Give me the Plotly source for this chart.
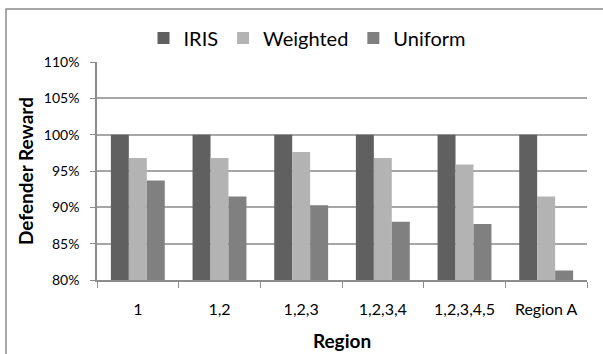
import plotly.graph_objects as go

categories = ["1", "1,2", "1,2,3", "1,2,3,4", "1,2,3,4,5", "Region A"]
iris = [1.00, 1.00, 1.00, 1.00, 1.00, 1.00]
weighted = [0.968, 0.968, 0.976, 0.968, 0.959, 0.915]
uniform = [0.937, 0.915, 0.903, 0.880, 0.877, 0.813]

FONT = "Lato"
fig = go.Figure()
fig.add_trace(go.Bar(name="IRIS", x=categories, y=iris, marker_color="#606060", marker_line_width=0))
fig.add_trace(go.Bar(name="Weighted", x=categories, y=weighted, marker_color="#b3b3b3", marker_line_width=0))
fig.add_trace(go.Bar(name="Uniform", x=categories, y=uniform, marker_color="#808080", marker_line_width=0))

L, R, T, B = 97, 16, 62, 74
W, H = 603, 354
pw, ph = W - L - R, H - T - B

def px(x):
    return (x - L) / pw

def py(y):
    return (H - B - y) / ph

fig.update_layout(
    width=W, height=H,
    margin=dict(l=L, r=R, t=T, b=B, autoexpand=False),
    paper_bgcolor="white", plot_bgcolor="white",
    barmode="group", bargap=0.34, bargroupgap=0,
    font=dict(family=FONT, color="#000000", size=14),
    legend=dict(orientation="h", x=px(307), xanchor="center", y=py(38), yanchor="middle",
                font=dict(size=20, family=FONT), itemwidth=30, traceorder="normal"),
    xaxis=dict(showline=True, linecolor="#8c8c8c", linewidth=1.5, ticks="outside",
               tickson="boundaries", ticklen=6, tickcolor="#8c8c8c", tickwidth=1,
               ticklabelstandoff=14, automargin=False,
               tickfont=dict(size=16, family=FONT),
               title=dict(text="<b>Region</b>", font=dict(size=19, family=FONT), standoff=18)),
    yaxis=dict(range=[0.8, 1.1], dtick=0.05, tickformat=".0%", showline=True,
               linecolor="#8c8c8c", linewidth=1.5, ticks="outside", ticklen=5,
               tickcolor="#8c8c8c", showgrid=True, gridcolor="#a6a6a6", gridwidth=1.5,
               ticklabelstandoff=8, automargin=False,
               tickfont=dict(size=14, family=FONT), zeroline=False,
               title=dict(text="<b>Defender Reward</b>", font=dict(size=19, family=FONT), standoff=5)),
    shapes=[dict(type="rect", xref="paper", yref="paper",
                 x0=px(6), x1=px(610), y0=py(360), y1=py(9),
                 line=dict(color="#8c8c8c", width=1.5), fillcolor="rgba(0,0,0,0)", layer="below")],
)

fig.write_html("out.html", config={"displayModeBar": False},
               post_script="document.body.style.margin='0px';document.body.style.padding='0px';")
